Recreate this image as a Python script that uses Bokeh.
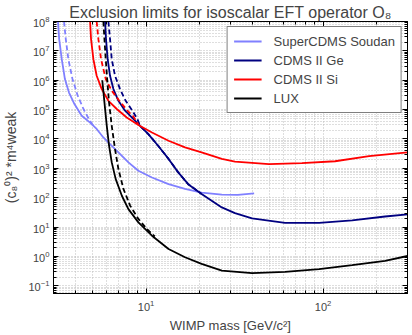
from bokeh.plotting import figure
from bokeh.models import LogAxis, FixedTicker, Legend, LegendItem, Range1d
from bokeh.embed import file_html
from bokeh.resources import INLINE

# ---- data ----
soudan_x = [3.18, 3.23, 3.34, 3.48, 3.67, 3.94, 4.33, 4.83, 5.26, 5.74, 6.26, 6.98, 7.95, 9.05, 10.8, 13.4, 16.6, 20.6, 26.8, 33, 40.8]
soudan_y = [1e8, 2.5e7, 5.2e6, 1.1e6, 3.8e5, 1.55e5, 6.2e4, 3.6e4, 2.2e4, 1.13e4, 6.7e3, 3.5e3, 1.6e3, 8.3e2, 4.9e2, 2.9e2, 2.0e2, 1.5e2, 1.27e2, 1.25e2, 1.4e2]
soudan_dx = [3.44, 3.52, 3.64, 3.84, 4.11, 4.43, 4.76, 5.03]
soudan_dy = [1e8, 2.5e7, 5.2e6, 1.1e6, 3.0e5, 1.05e5, 4.7e4, 2.8e4]

ge_x = [5.87, 5.94, 6.07, 6.26, 6.54, 6.98, 7.61, 8.47, 9.25, 10.3, 11.7, 13.4, 15.2, 17.3, 20.6, 26.8, 31.8, 39.7, 61, 95, 146, 224, 300]
ge_y = [1e8, 2.5e7, 5.2e6, 1.42e6, 5.0e5, 2.0e5, 9.2e4, 4.8e4, 2.8e4, 1.47e4, 5.9e3, 2.1e3, 7.3e2, 2.9e2, 1.35e2, 47, 30, 20, 14, 14, 17, 23, 27]
ge_dx = [6.13, 6.26, 6.40, 6.68, 7.13, 7.67, 8.37, 8.93, 9.25, 10.3, 11.7, 13.4, 15.2, 17.3, 20.6]
ge_dy = [1e8, 2.5e7, 5.2e6, 1.42e6, 5e5, 2e5, 9.2e4, 4.8e4, 2.8e4, 1.47e4, 5.9e3, 2.1e3, 7.3e2, 2.9e2, 1.35e2]

si_x = [4.83, 4.89, 5.04, 5.26, 5.62, 6.13, 6.83, 7.78, 9.05, 10.8, 13.4, 16.6, 20.6, 26.8, 31.8, 49.5, 76, 117, 182, 300]
si_y = [1e8, 2.5e7, 5.2e6, 1.42e6, 5.0e5, 2.0e5, 1.05e5, 5.4e4, 3.0e4, 1.67e4, 8.7e3, 5.2e3, 3.5e3, 2.1e3, 1.7e3, 1.4e3, 1.5e3, 1.75e3, 2.6e3, 3.5e3]
si_dx = [5.26, 5.38, 5.57, 5.92, 6.40, 7.06, 7.87, 8.47, 9.05]
si_dy = [1e8, 2.5e7, 5.2e6, 1.1e6, 4.4e5, 2.0e5, 9.1e4, 5.9e4, 3.1e4]

lux_x = [5.66, 5.82, 6.0, 6.18, 6.40, 6.74, 7.30, 7.95, 9.05, 10.8, 13.4, 16.6, 20.6, 26.8, 39.7, 61, 95, 146, 224, 300]
lux_y = [1e6, 1.76e5, 2.8e4, 5.9e3, 1.6e3, 4.3e2, 1.17e2, 41, 14.5, 5.1, 1.8, 0.94, 0.56, 0.33, 0.27, 0.30, 0.37, 0.51, 0.71, 1.04]
lux_dx = [5.74, 5.82, 5.92, 6.03, 6.18, 6.40, 6.68, 6.98, 7.45, 8.13, 9.05, 10.1, 11.2]
lux_dy = [1e8, 2.5e7, 5.2e6, 1.1e6, 1.76e5, 2.8e4, 4.5e3, 9.5e2, 2.0e2, 54, 19, 8.7, 4.8]

series_names = ["SuperCDMS Soudan", "CDMS II Ge", "CDMS II Si", "LUX"]
series_colors = ["#8080ff", "#000080", "#ff0000", "#000000"]

x_major = [10, 100]
y_major = [10.0 ** k for k in range(-1, 9)]

FONT = "Liberation Sans"

p = figure(x_axis_type="log", y_axis_type="log",
           x_range=Range1d(3, 300), y_range=Range1d(0.055, 1e8),
           frame_width=354, frame_height=272,
           output_backend="svg", toolbar_location=None,
           title="Exclusion limits for isoscalar EFT operator O\u2088",
           min_border_left=10, min_border_right=4, min_border_top=0, min_border_bottom=0)

p.title.text_font = FONT
p.title.text_font_size = "16px"
p.title.text_font_style = "normal"
p.title.align = "center"
p.title.standoff = 2
p.title.offset = 0

x_minor = [m * 10.0 ** k for k in range(0, 3) for m in range(2, 10) if 3 <= m * 10.0 ** k <= 300]
y_minor = [m * 10.0 ** k for k in range(-2, 8) for m in range(2, 10) if 0.055 <= m * 10.0 ** k <= 1e8]
xt = FixedTicker(ticks=x_major, minor_ticks=x_minor)
yt = FixedTicker(ticks=y_major, minor_ticks=y_minor)

p.xaxis.ticker = xt
p.yaxis.ticker = yt
p.xgrid.ticker = xt
p.ygrid.ticker = yt

for ax in (p.xaxis, p.yaxis):
    ax.major_label_text_font = FONT
    ax.major_label_text_font_size = "11px"
    ax.axis_label_text_font = FONT
    ax.axis_label_text_font_size = "13px"
    ax.axis_label_text_font_style = "normal"
    ax.major_tick_in = 5
    ax.major_tick_out = 0
    ax.minor_tick_in = 3
    ax.minor_tick_out = 0
    ax.axis_line_color = "black"
    ax.major_tick_line_color = "black"
    ax.minor_tick_line_color = "black"

p.xaxis.axis_label = "WIMP mass [GeV/c\u00b2]"
p.yaxis.axis_label = "(c\u2088\u2070)\u00b2 *m\u2074weak"
p.yaxis.axis_label_text_font_size = "14px"
p.xaxis.major_label_standoff = 6
p.yaxis.major_label_standoff = 4
p.xaxis.axis_label_standoff = 4
p.yaxis.axis_label_standoff = 6

for g in (p.xgrid, p.ygrid):
    g.grid_line_color = "#bdbdbd"
    g.grid_line_dash = "1 2"
    g.grid_line_width = 1
    g.minor_grid_line_color = "#bdbdbd"
    g.minor_grid_line_dash = "1 2"
    g.minor_grid_line_width = 1

p.outline_line_color = "black"
p.outline_line_width = 1

# mirrored axes (ticks only)
right = LogAxis(ticker=yt, major_label_text_font_size="1px", major_label_text_alpha=0,
                major_tick_in=5, major_tick_out=0,
                minor_tick_in=3, minor_tick_out=0, major_label_standoff=0, axis_line_color="black")
top = LogAxis(ticker=xt, major_label_text_font_size="1px", major_label_text_alpha=0,
              major_tick_in=5, major_tick_out=0,
              minor_tick_in=3, minor_tick_out=0, major_label_standoff=0, axis_line_color="black")
p.add_layout(right, "right")
p.add_layout(top, "above")

LW = 1.8
DASH = "5 3"

solid = [(soudan_x, soudan_y), (ge_x, ge_y), (si_x, si_y), (lux_x, lux_y)]
dashed = [(soudan_dx, soudan_dy), (ge_dx, ge_dy), (si_dx, si_dy), (lux_dx, lux_dy)]

items = []
for (sx, sy), (dx, dy), name, col in zip(solid, dashed, series_names, series_colors):
    r = p.line(sx, sy, line_color=col, line_width=LW)
    p.line(dx, dy, line_color=col, line_width=LW, line_dash=DASH)
    items.append(LegendItem(label=name, renderers=[r]))

legend = Legend(items=items,
                location="top_right", margin=5, padding=6, spacing=3,
                glyph_width=28, glyph_height=16, label_height=16, label_standoff=12,
                label_text_font=FONT, label_text_font_size="13px",
                border_line_color="black", border_line_width=1,
                background_fill_color="white", background_fill_alpha=1)
p.add_layout(legend)

open("out.html", "w").write(file_html(p, INLINE))
